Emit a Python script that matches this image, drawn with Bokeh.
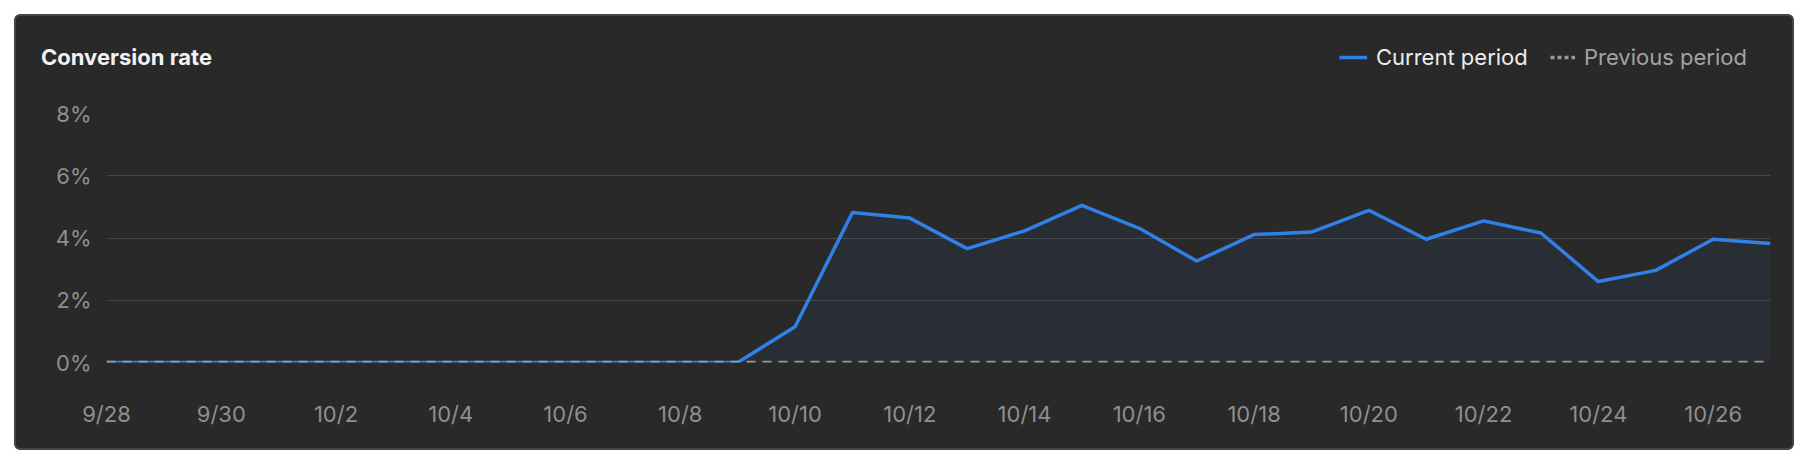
from bokeh.plotting import figure
from bokeh.models import (ColumnDataSource, FixedTicker, Label, Legend, LegendItem,
                          NumeralTickFormatter, Range1d)
from bokeh.layouts import column
from bokeh.embed import file_html
from bokeh.resources import INLINE

# ---------------- data ----------------
dates = ["9/28", "9/29", "9/30", "10/1", "10/2", "10/3", "10/4", "10/5", "10/6", "10/7",
         "10/8", "10/9", "10/10", "10/11", "10/12", "10/13", "10/14", "10/15", "10/16",
         "10/17", "10/18", "10/19", "10/20", "10/21", "10/22", "10/23", "10/24", "10/25",
         "10/26", "10/27"]
current_period = [0, 0, 0, 0, 0, 0, 0, 0, 0, 0, 0, 0,
                  1.15, 4.82, 4.64, 3.66, 4.23, 5.05, 4.31, 3.26, 4.11, 4.19,
                  4.89, 3.96, 4.55, 4.16, 2.60, 2.96, 3.96, 3.82]
previous_period = [0] * 30
y_ticks = [0, 2, 4, 6, 8]
x_tick_every = 2
title_text = "Conversion rate"
series_names = ["Current period", "Previous period"]

# ---------------- style ----------------
FONT = "Inter"
BG_OUT = "#262626"
BG_CARD = "#292929"
BLUE = "#3080e8"
GRAY = "#9a9a9a"
GRID = "#464646"
TICK_TXT = "#8f8f8f"
W = 1776
HEAD_H = 80
MAIN_H = 352
NAN = float("nan")

# ---------------- header (title + legend) ----------------
head = figure(width=W, height=HEAD_H, output_backend="svg", toolbar_location=None,
              x_range=Range1d(0, W), y_range=Range1d(HEAD_H, 0),
              min_border=0, min_border_left=0, min_border_right=0,
              min_border_top=0, min_border_bottom=0)
head.frame_align = False
head.axis.visible = False
head.grid.visible = False
head.outline_line_color = None
head.background_fill_alpha = 0
head.border_fill_alpha = 0

head.add_layout(Label(x=24.5, y=40, text=title_text, text_font=FONT,
                      text_font_size="22px", text_font_style="bold",
                      text_color="#f2f2f2", text_baseline="middle"))

cur_proxy = head.line(x=[NAN], y=[NAN], line_color=BLUE, line_width=3.5)
prev_proxy = head.line(x=[NAN], y=[NAN], line_color=GRAY, line_width=3.5, line_dash="4 3")


def make_legend(fig, item, color, loc, gw):
    lg = Legend(items=[item], location=loc, orientation="horizontal",
                label_text_font=FONT, label_text_font_size="22px",
                label_text_color=color, glyph_width=gw, glyph_height=22,
                label_height=22, label_standoff=9, padding=0, margin=0, spacing=0,
                border_line_color=None, background_fill_alpha=0)
    fig.add_layout(lg)


make_legend(head, LegendItem(label=series_names[0], renderers=[cur_proxy]),
            "#ececec", (1323, 26), 28)
make_legend(head, LegendItem(label=series_names[1], renderers=[prev_proxy]),
            "#a3a3a3", (1534, 26), 25)

# ---------------- main chart ----------------
x = list(range(len(dates)))
src = ColumnDataSource(dict(x=x, cur=[v / 100 for v in current_period],
                            prev=[v / 100 for v in previous_period],
                            zero=[0] * len(dates)))

p = figure(width=W, height=MAIN_H, output_backend="svg", toolbar_location=None,
           x_range=(0, len(dates) - 1), y_range=(0, max(y_ticks) / 100),
           min_border_left=90, min_border_right=22, min_border_top=17, min_border_bottom=86)
p.frame_align = False
p.background_fill_alpha = 0
p.border_fill_alpha = 0
p.outline_line_color = None

p.varea(x="x", y1="zero", y2="cur", source=src, fill_color=BLUE, fill_alpha=0.06)
p.line(x="x", y="cur", source=src, line_color=BLUE, line_width=3.5, line_join="round")
p.line(x="x", y="prev", source=src, line_color=GRAY, line_width=3.5, line_dash="9 7")

p.xaxis.ticker = FixedTicker(ticks=x[::x_tick_every])
p.xaxis.major_label_overrides = {i: dates[i] for i in x[::x_tick_every]}
p.yaxis.ticker = FixedTicker(ticks=[t / 100 for t in y_ticks])
p.yaxis.formatter = NumeralTickFormatter(format="0%")
for ax in (p.xaxis, p.yaxis):
    ax.axis_line_color = None
    ax.major_tick_line_color = None
    ax.minor_tick_line_color = None
    ax.major_label_text_font = FONT
    ax.major_label_text_font_size = "22px"
    ax.major_label_text_color = TICK_TXT
p.xaxis.major_label_standoff = 32
p.yaxis.major_label_standoff = 9

p.xgrid.grid_line_color = None
p.ygrid.grid_line_color = GRID
p.ygrid.grid_line_width = 1

card = column(head, p, spacing=0,
              styles={"background-color": BG_CARD, "border": "2px solid #434343",
                      "border-radius": "6px", "margin-left": "14px", "margin-top": "14px"})

html = file_html(card, INLINE)
html = html.replace("<body>", '<body style="background:%s;">' % BG_OUT, 1)
open("out.html", "w").write(html)
